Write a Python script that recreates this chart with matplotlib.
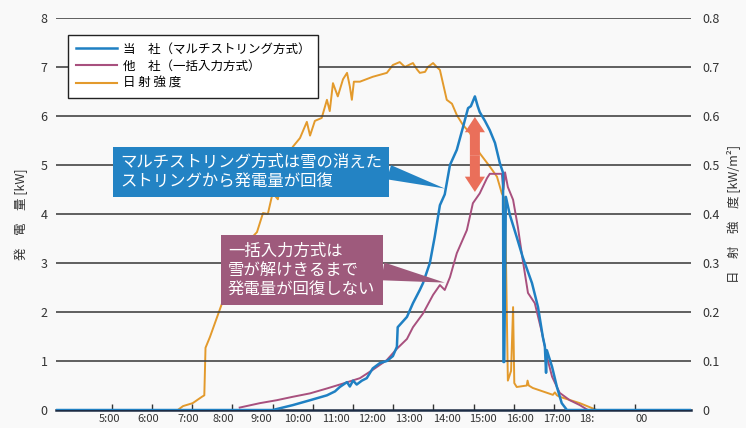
import matplotlib
matplotlib.use("Agg")
import matplotlib.pyplot as plt
from matplotlib.lines import Line2D

plt.rcParams['font.family'] = ['Noto Sans CJK JP', 'DejaVu Sans']

# --- data (time in hours of the day) ---
sun_t = [3.61, 6.64, 6.77, 7.01, 7.24, 7.30, 7.33, 7.44, 7.86, 8.26, 8.61, 8.76, 8.88,
         9.00, 9.13, 9.25, 9.50, 9.68, 9.85, 9.93, 10.05, 10.22, 10.35, 10.42, 10.50,
         10.62, 10.75, 10.85, 10.92, 10.97, 11.02, 11.17, 11.49, 11.84, 11.99, 12.16,
         12.29, 12.41, 12.49, 12.59, 12.66, 12.79, 12.86, 12.99, 13.08, 13.16, 13.33,
         13.46, 13.58, 13.73, 13.91, 14.15, 14.40, 14.58, 14.70, 14.78, 14.85, 14.93,
         14.98, 15.01, 15.07, 15.32, 15.34, 15.37, 15.47, 15.97, 16.02, 16.07, 16.14,
         16.64, 17.06, 19.40]
sun_v = [0, 0, 0.008, 0.014, 0.027, 0.03, 0.127, 0.149, 0.245, 0.333, 0.363, 0.402, 0.40,
         0.443, 0.43, 0.49, 0.537, 0.555, 0.588, 0.56, 0.59, 0.596, 0.633, 0.61, 0.667,
         0.64, 0.675, 0.688, 0.66, 0.633, 0.67, 0.67, 0.68, 0.688, 0.704, 0.71,
         0.70, 0.705, 0.708, 0.695, 0.688, 0.69, 0.70, 0.708, 0.70, 0.694, 0.633,
         0.625, 0.602, 0.582, 0.565, 0.524, 0.497, 0.476, 0.442, 0.43, 0.06, 0.08,
         0.21, 0.055, 0.047, 0.05, 0.06, 0.05, 0.045, 0.031, 0.036, 0.03, 0.027,
         0.014, 0, 0]

own_t = [3.61, 9.00, 9.25, 9.50, 9.93, 10.35, 10.55, 10.67, 10.85, 10.92, 11.00, 11.09,
         11.22, 11.34, 11.49, 11.67, 11.84, 11.99, 12.09, 12.11, 12.34, 12.49, 12.66,
         12.74, 12.91, 13.03, 13.16, 13.28, 13.33, 13.41, 13.58, 13.73, 13.86, 13.93,
         14.03, 14.10, 14.15, 14.28, 14.40, 14.53, 14.65, 14.73, 14.74, 14.76, 14.80,
         14.90, 15.07, 15.22, 15.45, 15.60, 15.72, 15.77, 15.80, 15.82, 15.95, 16.07,
         16.19, 16.32, 19.40]
own_v = [0, 0, 0.05, 0.1, 0.2, 0.3, 0.38, 0.47, 0.57, 0.48, 0.6, 0.52,
         0.6, 0.65, 0.85, 0.96, 1.0, 1.1, 1.29, 1.69, 1.9, 2.18, 2.45,
         2.59, 3.0, 3.53, 4.18, 4.4, 4.63, 5.0, 5.31, 5.76, 6.16, 6.2,
         6.4, 6.2, 6.08, 5.9, 5.71, 5.45, 5.04, 4.84, 0.98, 0.98, 4.35,
         3.98, 3.53, 3.12, 2.59, 2.1, 1.49, 1.3, 0.76, 1.22, 0.88, 0.47,
         0.14, 0, 0]

oth_t = [8.18, 8.68, 9.10, 9.50, 9.93, 10.35, 10.75, 11.17, 11.49, 11.84, 12.09, 12.34,
         12.49, 12.74, 12.99, 13.16, 13.28, 13.41, 13.58, 13.83, 13.98, 14.15, 14.33,
         14.40, 14.70, 14.74, 14.78, 14.85, 14.98, 15.10, 15.22, 15.35, 15.52, 15.70,
         15.82, 15.95, 16.14, 16.39, 16.64, 16.84]
oth_v = [0.05, 0.14, 0.2, 0.27, 0.34, 0.44, 0.54, 0.65, 0.82, 1.02, 1.25, 1.45,
         1.69, 1.97, 2.35, 2.55, 2.45, 2.71, 3.2, 3.67, 4.22, 4.42, 4.73,
         4.82, 4.82, 4.5, 4.85, 4.55, 4.29, 3.73, 3.06, 2.39, 2.18, 1.57,
         1.09, 0.68, 0.35, 0.2, 0.1, 0.0]

hour_ticks = list(range(5, 19))
xlabels = ["5:00", "6:00", "7:00", "8:00", "9:00", "10:00", "11:00", "12:00", "13:00",
           "14:00", "15:00", "16:00", "17:00", "18:", "00"]
# labels in the original sit a bit off the tick marks
xlabel_pos = [4.93, 5.90, 6.89, 7.76, 8.71, 9.63, 10.57, 11.47, 12.39, 13.33, 14.23,
              15.15, 16.07, 16.82, 18.18]

legend_labels = ["当　社（マルチストリング方式）", "他　社（一括入力方式）", "日 射 強 度"]

c_own = '#1f80c3'
c_oth = '#a8507e'
c_sun = '#e39a2c'
bg = '#f9f9f9'

fig = plt.figure(figsize=(7.46, 4.28), dpi=100, facecolor=bg)
ax2 = fig.add_axes([0.075, 0.042, 0.851, 0.916])
ax = ax2.twinx()
# power axis on top so its lines draw over the irradiance
ax2, ax = ax, ax2
ax.set_zorder(ax2.get_zorder() + 1)
ax.patch.set_visible(False)
ax2.set_facecolor(bg)

ax.set_xlim(3.61, 19.40)
ax.set_ylim(0, 8)
ax2.set_ylim(0, 0.8)

# grid lines
for yv in range(1, 9):
    ax.axhline(yv, color='#454545', lw=1.2, zorder=1)

ax2.plot(sun_t, sun_v, color=c_sun, lw=1.4, zorder=3)
ax.plot(oth_t, oth_v, color=c_oth, lw=1.4, zorder=4)
ax.plot(own_t, own_v, color=c_own, lw=1.8, zorder=5)

for a in (ax, ax2):
    for s in ('top', 'left', 'right'):
        a.spines[s].set_visible(False)
ax.spines['bottom'].set_color('#1c2c44')
ax.spines['bottom'].set_linewidth(1.8)
ax2.spines['bottom'].set_visible(False)

# y ticks (power on the left side, irradiance on the right)
ax.yaxis.tick_left()
ax2.yaxis.tick_right()
ax.set_yticks(range(0, 9))
ax.set_yticklabels([str(i) for i in range(0, 9)])
ax2.set_yticks([i / 10 for i in range(0, 9)])
ax2.set_yticklabels(["0"] + ["0.%d" % i for i in range(1, 9)])
ax.tick_params(axis='y', length=0, pad=6, labelsize=9, labelcolor='#333333')
ax2.tick_params(axis='y', length=0, pad=8, labelsize=9, labelcolor='#333333')

# x ticks: marks on the hours, labels separately
ax.set_xticks(xlabel_pos)
ax.set_xticklabels(xlabels)
ax.set_xticks(hour_ticks, minor=True)
ax.tick_params(axis='x', which='major', length=0, pad=3, labelsize=8, labelcolor='#333333')
ax.tick_params(axis='x', which='minor', direction='in', length=4, width=1, color='#333333')
ax2.tick_params(axis='x', which='both', length=0, labelbottom=False)

ax.set_ylabel("発　電　量 [kW]", fontsize=9, color='#333333', labelpad=9)
ax2.set_ylabel("日　射　強　度 [kW/m²]", fontsize=9, color='#333333', labelpad=5)

# legend
handles = [Line2D([], [], color=c_own, lw=1.8),
           Line2D([], [], color=c_oth, lw=1.5),
           Line2D([], [], color=c_sun, lw=1.5)]
leg = ax.legend(handles, legend_labels, loc='upper left', bbox_to_anchor=(0.019, 0.957),
                borderaxespad=0, fancybox=False, edgecolor='#222222', framealpha=1,
                facecolor='white', fontsize=9, handlelength=3.3, handletextpad=0.5,
                labelspacing=0.35, borderpad=0.6)
leg.get_frame().set_linewidth(1.0)
leg.set_zorder(10)

# callouts
c_box1 = '#2383c4'
c_box2 = '#9e5a7c'
ax.annotate("マルチストリング方式は雪の消えた\nストリングから発電量が回復",
            xy=(13.28, 4.52), xycoords='data',
            xytext=(0.101, 0.607), textcoords='axes fraction',
            ha='left', va='center', fontsize=11.8, color='white', linespacing=1.2,
            bbox=dict(boxstyle='square,pad=0.42', fc=c_box1, ec='none'),
            arrowprops=dict(arrowstyle='wedge,tail_width=0.9', fc=c_box1, ec='none',
                            relpos=(1.0, 0.55), shrinkA=0, shrinkB=0),
            zorder=8)
ax.annotate("一括入力方式は\n雪が解けきるまで\n発電量が回復しない",
            xy=(13.28, 2.60), xycoords='data',
            xytext=(0.271, 0.357), textcoords='axes fraction',
            ha='left', va='center', fontsize=11.8, color='white', linespacing=1.15,
            bbox=dict(boxstyle='square,pad=0.45', fc=c_box2, ec='none'),
            arrowprops=dict(arrowstyle='wedge,tail_width=1.1', fc=c_box2, ec='none',
                            relpos=(1.0, 0.5), shrinkA=0, shrinkB=0),
            zorder=8)

# double headed arrow showing the gap
c_arr = '#ea6f5a'
for y_end in (5.98, 4.45):
    ax.annotate("", xy=(14.03, y_end), xytext=(14.03, 5.2),
                arrowprops=dict(arrowstyle='simple,head_width=1.45,head_length=1.1,tail_width=0.72',
                                fc=c_arr, ec='none', shrinkA=0, shrinkB=0,
                                mutation_scale=10),
                zorder=7)

fig.savefig("out.png", dpi=100, facecolor=bg)
